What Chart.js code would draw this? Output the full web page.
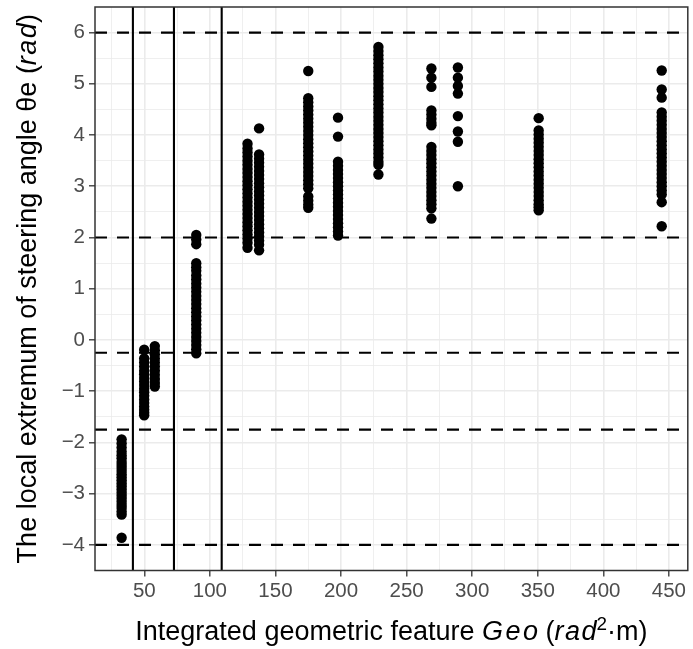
<!DOCTYPE html>
<html>
<head>
<meta charset="utf-8">
<script src="https://cdn.jsdelivr.net/npm/chart.js@4.4.1/dist/chart.umd.min.js"></script>
<style>
  html, body { margin: 0; padding: 0; background: #fff; }
</style>
</head>
<body>
<canvas id="geoChart" width="693" height="649"></canvas>
<script>
// x position of each column of points (Geo)
const geo = [32.7, 49.9, 58, 89.6, 128.7, 137.5, 175, 197.7, 228.5, 268.9, 289.1, 350.7, 444.5];

// local extremum values, same order as geo
const theta = [
  [-1.94, -2.02, -2.10, -2.18, -2.25, -2.31, -2.38, -2.44, -2.50, -2.56, -2.62, -2.68, -2.74, -2.80, -2.86, -2.92, -2.98, -3.04, -3.10, -3.16, -3.22, -3.28, -3.35, -3.41, -3.86],
  [-0.19, -0.36, -0.44, -0.52, -0.60, -0.67, -0.74, -0.81, -0.88, -0.95, -1.02, -1.09, -1.16, -1.23, -1.30, -1.36, -1.42, -1.47],
  [-0.12, -0.20, -0.28, -0.36, -0.44, -0.52, -0.60, -0.68, -0.76, -0.84, -0.91],
  [2.05, 1.96, 1.87, 1.50, 1.42, 1.35, 1.26, 1.18, 1.10, 1.02, 0.94, 0.86, 0.78, 0.70, 0.62, 0.54, 0.46, 0.38, 0.30, 0.22, 0.14, 0.06, -0.02, -0.10, -0.18, -0.26],
  [3.83, 3.74, 3.66, 3.58, 3.50, 3.42, 3.34, 3.26, 3.18, 3.10, 3.02, 2.94, 2.86, 2.78, 2.70, 2.62, 2.54, 2.46, 2.38, 2.30, 2.22, 2.14, 2.06, 1.98, 1.90, 1.80],
  [4.13, 3.62, 3.54, 3.46, 3.38, 3.30, 3.22, 3.14, 3.06, 2.98, 2.90, 2.82, 2.74, 2.66, 2.58, 2.50, 2.42, 2.34, 2.26, 2.18, 2.10, 2.02, 1.94, 1.86, 1.75],
  [5.25, 4.72, 4.64, 4.56, 4.48, 4.40, 4.32, 4.24, 4.16, 4.08, 4.00, 3.92, 3.84, 3.76, 3.68, 3.60, 3.52, 3.44, 3.36, 3.28, 3.20, 3.12, 3.04, 2.96, 2.80, 2.72, 2.64, 2.58],
  [4.34, 3.97, 3.48, 3.40, 3.32, 3.24, 3.16, 3.08, 3.00, 2.92, 2.84, 2.76, 2.68, 2.60, 2.52, 2.44, 2.36, 2.28, 2.20, 2.12, 2.04],
  [5.72, 5.64, 5.56, 5.48, 5.40, 5.32, 5.24, 5.16, 5.08, 5.00, 4.92, 4.84, 4.76, 4.68, 4.60, 4.52, 4.44, 4.36, 4.28, 4.20, 4.12, 4.04, 3.96, 3.88, 3.80, 3.72, 3.64, 3.56, 3.48, 3.42, 3.23],
  [5.30, 5.12, 4.94, 4.48, 4.40, 4.32, 4.24, 4.19, 3.77, 3.69, 3.61, 3.53, 3.45, 3.37, 3.29, 3.21, 3.13, 3.05, 2.97, 2.89, 2.81, 2.73, 2.65, 2.57, 2.37],
  [5.32, 5.12, 4.96, 4.81, 4.37, 4.07, 3.87, 3.00],
  [4.33, 4.09, 4.01, 3.93, 3.85, 3.77, 3.69, 3.61, 3.53, 3.45, 3.37, 3.29, 3.21, 3.13, 3.05, 2.97, 2.89, 2.81, 2.73, 2.65, 2.59, 2.53],
  [5.26, 4.89, 4.73, 4.44, 4.36, 4.28, 4.20, 4.12, 4.04, 3.96, 3.88, 3.80, 3.72, 3.64, 3.56, 3.48, 3.40, 3.32, 3.24, 3.16, 3.08, 3.00, 2.92, 2.84, 2.69, 2.22],
];

// reference lines
const hLines = [6, 2, -0.25, -1.75, -4];
const vLines = [41.3, 72.6, 109];

// axis range and ticks
const xRange = [12.4, 464.4];
const yRange = [-4.5, 6.5];
const xMajor = [50, 100, 150, 200, 250, 300, 350, 400, 450];
const xMinor = [25, 75, 125, 175, 225, 275, 325, 375, 425];
const yMajor = [-4, -3, -2, -1, 0, 1, 2, 3, 4, 5, 6];
const yMinor = [-3.5, -2.5, -1.5, -0.5, 0.5, 1.5, 2.5, 3.5, 4.5, 5.5];

const FONT = '"Liberation Sans", Arial, Helvetica, sans-serif';

const points = [];
geo.forEach((g, i) => {
  theta[i].forEach(v => points.push({ x: g, y: v }));
});

const datasets = [{
  data: points,
  backgroundColor: "#000",
  borderWidth: 0,
  pointRadius: 5.2,
}];

hLines.forEach(h => {
  datasets.push({
    data: [{ x: xRange[0], y: h }, { x: xRange[1], y: h }],
    showLine: true,
    borderColor: "#000",
    borderWidth: 2.1,
    borderDash: [12, 10],
    pointRadius: 0,
  });
});

vLines.forEach(v => {
  datasets.push({
    data: [{ x: v, y: yRange[0] }, { x: v, y: yRange[1] }],
    showLine: true,
    borderColor: "#000",
    borderWidth: 2.1,
    pointRadius: 0,
  });
});

function minusSign(v) {
  return String(v).replace("-", "\u2212");
}

function gridFor(major) {
  return {
    color: "#ebebeb",
    lineWidth: (c) => (c.tick && major.includes(c.tick.value) ? 1.6 : 0.8),
    tickColor: (c) => (c.tick && major.includes(c.tick.value) ? "#333333" : "rgba(0,0,0,0)"),
    tickWidth: 1.3,
    tickLength: 6,
  };
}

// draw text made of normal / italic / superscript pieces
function drawRich(ctx, parts, cx, baseline, size) {
  const fontFor = (p) => (p.italic ? "italic " : "") + (p.sup ? size * 0.7 : size) + "px " + FONT;
  let total = 0;
  parts.forEach(p => {
    ctx.font = fontFor(p);
    total += ctx.measureText(p.text).width + (p.gap || 0);
  });
  let x = cx - total / 2;
  parts.forEach(p => {
    ctx.font = fontFor(p);
    ctx.fillText(p.text, x, p.sup ? baseline - size * 0.38 : baseline);
    x += ctx.measureText(p.text).width + (p.gap || 0);
  });
}

const xTitle = [
  { text: "Integrated geometric feature " },
  { text: "G", italic: true, gap: 2.5 },
  { text: "e", italic: true, gap: 2.5 },
  { text: "o", italic: true },
  { text: " (" },
  { text: "r", italic: true, gap: 1.5 },
  { text: "a", italic: true, gap: 1.5 },
  { text: "d", italic: true },
  { text: "2", sup: true },
  { text: "\u00b7m)" },
];

const yTitle = [
  { text: "The local extremum of steering angle \u03b8e (" },
  { text: "r", italic: true, gap: 1.5 },
  { text: "a", italic: true, gap: 1.5 },
  { text: "d", italic: true },
  { text: ")" },
];

const panelDecor = {
  id: "panelDecor",
  afterDraw(chart) {
    const { ctx, chartArea: a } = chart;
    ctx.save();
    ctx.strokeStyle = "#333333";
    ctx.lineWidth = 1.5;
    ctx.strokeRect(a.left, a.top, a.right - a.left, a.bottom - a.top);

    ctx.fillStyle = "#000";
    ctx.textBaseline = "alphabetic";
    ctx.textAlign = "left";
    drawRich(ctx, xTitle, (a.left + a.right) / 2, 640, 27);

    ctx.translate(36, (a.top + a.bottom) / 2);
    ctx.rotate(-Math.PI / 2);
    drawRich(ctx, yTitle, 0, 0, 27);
    ctx.restore();
  },
};

const config = {
  type: "scatter",
  data: { datasets: datasets },
  options: {
    responsive: false,
    animation: false,
    devicePixelRatio: 1,
    layout: { padding: { left: 0, top: 7, right: 2, bottom: 0 } },
    plugins: {
      legend: { display: false },
      tooltip: { enabled: false },
    },
    scales: {
      x: {
        type: "linear",
        min: xRange[0],
        max: xRange[1],
        afterBuildTicks: (s) => {
          s.ticks = xMajor.concat(xMinor).sort((a, b) => a - b).map(v => ({ value: v }));
        },
        afterFit: (s) => {
          s.height = 78.5;
          s.paddingLeft = 0;
          s.paddingRight = 0;
        },
        border: { display: false },
        grid: gridFor(xMajor),
        ticks: {
          autoSkip: false,
          maxRotation: 0,
          color: "#4d4d4d",
          padding: 3,
          font: { family: FONT, size: 20.5 },
          callback: (v) => (xMajor.includes(v) ? String(v) : ""),
        },
      },
      y: {
        type: "linear",
        min: yRange[0],
        max: yRange[1],
        afterBuildTicks: (s) => {
          s.ticks = yMajor.concat(yMinor).sort((a, b) => a - b).map(v => ({ value: v }));
        },
        afterFit: (s) => {
          s.width = 95;
          s.paddingTop = 0;
          s.paddingBottom = 0;
        },
        border: { display: false },
        grid: gridFor(yMajor),
        ticks: {
          autoSkip: false,
          color: "#4d4d4d",
          padding: 4,
          font: { family: FONT, size: 20.5 },
          callback: (v) => (yMajor.includes(v) ? minusSign(v) : ""),
        },
      },
    },
  },
  plugins: [panelDecor],
};

const ctx = document.getElementById("geoChart").getContext("2d");
const geoChart = new Chart(ctx, config);
</script>
</body>
</html>
